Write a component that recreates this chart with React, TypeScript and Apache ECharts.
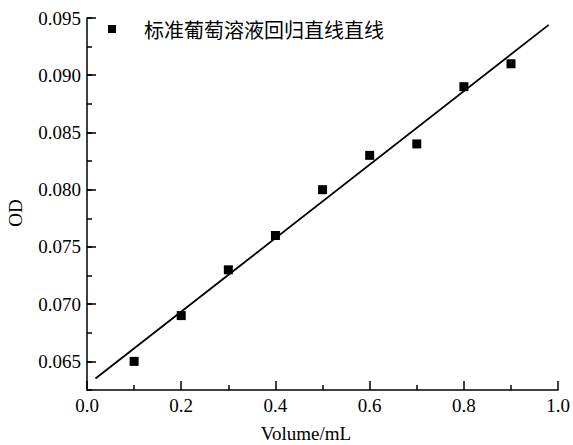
import React, { useEffect, useRef } from "react";
import * as echarts from "echarts";

const seriesName = "标准葡萄溶液回归直线直线";
const volumes = [0.1, 0.2, 0.3, 0.4, 0.5, 0.6, 0.7, 0.8, 0.9];
const odValues = [0.065, 0.069, 0.073, 0.076, 0.08, 0.083, 0.084, 0.089, 0.091];
const fitX = [0.018, 0.98];
const fitY = [0.0635, 0.0944];
const yMajorTicks = [0.065, 0.07, 0.075, 0.08, 0.085, 0.09, 0.095];
const xAxisName = "Volume/mL";
const yAxisName = "OD";

const serif = "'Liberation Serif', 'Times New Roman', serif";

export default function App() {
  const ref = useRef<HTMLDivElement>(null);
  useEffect(() => {
    if (!ref.current) return;
    const chart = echarts.init(ref.current, undefined, { renderer: "svg" });
    const axisLineStyle = { color: "#000", width: 1.5 };
    chart.setOption({
      animation: false,
      backgroundColor: "#fff",
      grid: { left: 87, right: 14, top: 18, bottom: 55 },
      legend: {
        data: [seriesName],
        left: 103,
        top: 14,
        itemWidth: 8,
        itemHeight: 8,
        icon: "rect",
        itemStyle: { opacity: 1 },
        textStyle: {
          fontFamily: "'Noto Sans CJK SC', sans-serif",
          fontSize: 20,
          color: "#000",
          padding: [0, 0, 0, 23],
        },
      },
      xAxis: {
        type: "value",
        min: 0,
        max: 1,
        interval: 0.2,
        splitLine: { show: false },
        axisLine: { show: true, lineStyle: axisLineStyle },
        axisTick: { show: true, inside: true, length: 9, lineStyle: { color: "#000", width: 1.5 } },
        minorTick: { show: true, splitNumber: 2, length: 5, lineStyle: { color: "#000", width: 1.5 } },
        axisLabel: {
          color: "#000",
          fontFamily: serif,
          fontSize: 19,
          margin: 6,
          formatter: (v: number) => v.toFixed(1),
        },
      },
      yAxis: [
        {
          type: "value",
          position: "left",
          min: 0.0625,
          max: 0.095,
          interval: 0.0025,
          splitLine: { show: false },
          axisLine: { show: true, lineStyle: axisLineStyle },
          axisTick: {
            show: true,
            inside: true,
            length: 9,
            customValues: yMajorTicks,
            lineStyle: { color: "#000", width: 1.5 },
          },
          axisLabel: {
            color: "#000",
            fontFamily: serif,
            fontSize: 19,
            margin: 6,
            customValues: yMajorTicks,
            formatter: (v: number) => v.toFixed(3),
          },
        },
        {
          type: "value",
          position: "left",
          min: 0.0625,
          max: 0.095,
          interval: 0.0025,
          splitLine: { show: false },
          axisLine: { show: false },
          axisTick: { show: true, inside: true, length: 5, lineStyle: { color: "#000", width: 1.5 } },
          axisLabel: { show: false },
        },
      ],
      series: [
        {
          name: seriesName,
          type: "scatter",
          symbol: "rect",
          symbolSize: 9,
          itemStyle: { color: "#000", opacity: 1 },
          data: volumes.map((v, i) => [v, odValues[i]]),
          z: 3,
        },
        {
          name: "fit",
          type: "line",
          showSymbol: false,
          symbol: "none",
          lineStyle: { color: "#000", width: 1.8 },
          data: fitX.map((v, i) => [v, fitY[i]]),
          z: 2,
        },
      ],
      graphic: [
        {
          type: "text",
          x: 15,
          y: 213,
          rotation: Math.PI / 2,
          style: {
            text: yAxisName,
            fontFamily: serif,
            fontSize: 19,
            fill: "#000",
            align: "center",
            verticalAlign: "middle",
          },
        },
        {
          type: "text",
          x: 306,
          y: 433,
          style: {
            text: xAxisName,
            fontFamily: serif,
            fontSize: 19,
            fill: "#000",
            align: "center",
            verticalAlign: "middle",
          },
        },
      ],
    });
    return () => chart.dispose();
  }, []);
  return <div ref={ref} style={{ width: 573, height: 445, position: "absolute", left: 0, top: 0 }} />;
}
